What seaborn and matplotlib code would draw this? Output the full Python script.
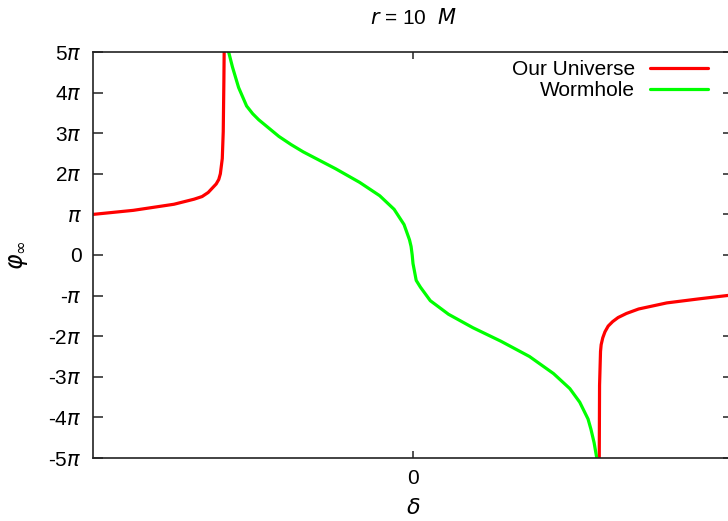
import numpy as np
import pandas as pd
import matplotlib
matplotlib.use("Agg")
import matplotlib.pyplot as plt
import seaborn as sns

# Deflection angle phi_inf (in units of pi) versus impact parameter delta, r = 10 M
# "Our Universe" has two branches, one on each side of the asymptotes
univ_left_delta = [-1.0, -0.874, -0.747, -0.684, -0.659, -0.640, -0.615, -0.607,
                   -0.602, -0.596, -0.593, -0.591, -0.590]
univ_left_phi = [1.0, 1.10, 1.25, 1.375, 1.44, 1.54, 1.75, 1.86,
                 2.0, 2.375, 3.04, 4.29, 5.08]

univ_right_delta = [0.582, 0.583, 0.586, 0.588, 0.593, 0.600, 0.610, 0.624,
                    0.641, 0.667, 0.705, 0.793, 0.894, 0.980, 1.0]
univ_right_phi = [-5.08, -3.21, -2.375, -2.21, -2.04, -1.89, -1.75, -1.64,
                  -1.54, -1.44, -1.33, -1.18, -1.08, -1.0, -0.985]

worm_delta = [-0.580, -0.564, -0.545, -0.520, -0.501, -0.482, -0.419, -0.381,
              -0.343, -0.242, -0.167, -0.104, -0.059, -0.028, -0.011, -0.006,
              -0.0025, 0.0, 0.004, 0.010, 0.023, 0.054, 0.111, 0.187, 0.275,
              0.364, 0.439, 0.490, 0.521, 0.547, 0.556, 0.566, 0.576]
worm_phi = [5.12, 4.625, 4.125, 3.67, 3.48, 3.33, 2.92, 2.72,
            2.54, 2.125, 1.79, 1.46, 1.125, 0.75, 0.375, 0.21,
            0.0, -0.21, -0.375, -0.625, -0.79, -1.125, -1.46, -1.79, -2.125,
            -2.5, -2.92, -3.29, -3.625, -4.04, -4.29, -4.625, -5.08]

y_ticks = [-5, -4, -3, -2, -1, 0, 1, 2, 3, 4, 5]
y_tick_labels = ["-5$\\pi$", "-4$\\pi$", "-3$\\pi$", "-2$\\pi$", "-$\\pi$", "0",
                 "$\\pi$", "2$\\pi$", "3$\\pi$", "4$\\pi$", "5$\\pi$"]
x_ticks = [0]
x_tick_labels = ["0"]

sns.set_style("white")
plt.rcParams["font.family"] = ["Liberation Sans", "DejaVu Sans"]
plt.rcParams["mathtext.fontset"] = "dejavusans"
plt.rcParams["text.color"] = "black"
plt.rcParams["xtick.color"] = "black"
plt.rcParams["ytick.color"] = "black"

W, H = 728, 521
fig = plt.figure(figsize=(W / 100, H / 100), dpi=100)
ax = fig.add_axes([93 / W, 1 - 458 / H, (733 - 93) / W, (458 - 52) / H])

red = "#ff0000"
green = "#00ff00"
lw = 2.3

left_df = pd.DataFrame({"delta": univ_left_delta, "phi": univ_left_phi})
right_df = pd.DataFrame({"delta": univ_right_delta, "phi": univ_right_phi})
worm_df = pd.DataFrame({"delta": worm_delta, "phi": worm_phi})

line_kw = dict(lw=lw, sort=False, estimator=None, solid_joinstyle="round",
               solid_capstyle="round")
sns.lineplot(data=left_df, x="delta", y="phi", ax=ax, color=red,
             label="Our Universe", **line_kw)
sns.lineplot(data=right_df, x="delta", y="phi", ax=ax, color=red,
             label="_nolegend_", **line_kw)
sns.lineplot(data=worm_df, x="delta", y="phi", ax=ax, color=green,
             label="Wormhole", **line_kw)

ax.set_xlim(-1, 1)
ax.set_ylim(-5, 5)
ax.set_xticks(x_ticks)
ax.set_xticklabels(x_tick_labels)
ax.set_yticks(y_ticks)
ax.set_yticklabels(y_tick_labels)
ax.set_xlabel("")
ax.set_ylabel("")

for s in ax.spines.values():
    s.set_color("#222222")
    s.set_linewidth(1.2)
    s.set_visible(True)

ax.tick_params(axis="both", which="major", direction="in", length=7, width=1.1,
               color="#222222", labelcolor="black", labelsize=15, pad=8,
               top=True, right=True, bottom=True, left=True)
ax.tick_params(axis="x", length=5)

leg = ax.legend(loc="upper right", bbox_to_anchor=(708 / W, 1 - 60 / H),
                bbox_transform=fig.transFigure, frameon=False, markerfirst=False,
                fontsize=15, handlelength=2.8, handletextpad=0.7,
                labelspacing=0.1, borderpad=0, borderaxespad=0)
for t in leg.get_texts():
    t.set_ha("right")
    t.set_color("black")

fig.text(413 / W, 1 - 18 / H, "$r$ = 10  $M$", ha="center", va="center", fontsize=15)
fig.text(413 / W, 1 - 509 / H, "$\\delta$", ha="center", va="center", fontsize=16)
fig.text(18 / W, 1 - 255 / H, "$\\varphi_\\infty$", ha="center", va="center",
         rotation=90, fontsize=17)

fig.savefig("out.png", dpi=100)
